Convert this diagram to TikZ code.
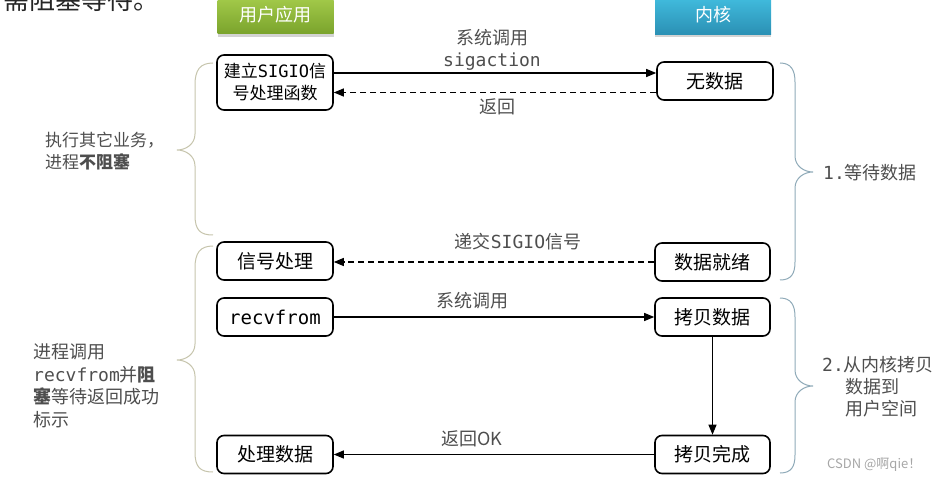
\documentclass[tikz,border=0pt]{standalone}
\usepackage{fontspec}
\setmainfont{Noto Sans CJK SC}
\setmonofont{DejaVu Sans Mono}
\usetikzlibrary{arrows.meta,shadows}
\definecolor{lblgray}{HTML}{4E4E4E}
\definecolor{lbrace}{HTML}{C6C4AC}
\definecolor{rbrace}{HTML}{8FAAB8}
\definecolor{gtop}{HTML}{A6CD4C}
\definecolor{gbot}{HTML}{7AA32C}
\definecolor{btop}{HTML}{42BEE0}
\definecolor{bbot}{HTML}{2B90B4}
\begin{document}
\begin{tikzpicture}[x=1pt,y=-1pt,
  box/.style={draw=black, line width=1.6pt, rounded corners=7pt, minimum width=116pt,
    minimum height=38pt, inner sep=0pt, align=center, font=\fontsize{19}{22}\selectfont, text=black},
  hdr/.style={minimum width=116pt, minimum height=39pt, inner sep=0pt, text=white,
    font=\fontsize{18}{22}\selectfont, drop shadow={opacity=0.35, shadow xshift=0pt, shadow yshift=-3pt}},
  lbl/.style={inner sep=0pt, text=lblgray, font=\fontsize{18}{22}\selectfont},
  sidetxt/.style={inner sep=0pt, text=lblgray, align=left},
  arr/.style={line width=1.1pt, -{Triangle[length=10pt,width=8pt]}},
  darr/.style={arr, dash pattern=on 6pt off 4pt},
  lbr/.style={draw=lbrace, line width=1pt},
  rbr/.style={draw=rbrace, line width=1pt}
]
\useasboundingbox (0,0) rectangle (940,481);

% cropped heading text
\node[anchor=base west, inner sep=0pt, text=black!85, font=\fontsize{26}{28}\selectfont] (head) at (3,10) {需阻塞等待。};

% column headers
\node[hdr, top color=gtop, bottom color=gbot] (user) at (275.5,14.5) {用户应用};
\node[hdr, top color=btop, bottom color=bbot] (kern) at (713,15) {内核};

% boxes
\node[box, minimum height=55pt, font=\fontsize{17}{22}\selectfont] (setup) at (275,82.5) {建立\texttt{SIGIO}信\\号处理函数};
\node[box] (nodata) at (715,81) {无数据};
\node[box] (sighandle) at (275,261) {信号处理};
\node[box] (recv) at (275,317) {\texttt{recvfrom}};
\node[box] (proc) at (275,454.5) {处理数据};
\node[box, minimum width=115pt] (ready) at (712.5,262) {数据就绪};
\node[box, minimum width=115pt] (copy) at (712.5,317) {拷贝数据};
\node[box, minimum width=115pt] (done) at (712.5,454.5) {拷贝完成};

% connectors
\draw[arr] ([yshift=9.5pt]setup.east) -- ([yshift=9.5pt]setup.east -| nodata.west);
\draw[darr] ([yshift=-10pt]setup.east -| nodata.west) -- ([yshift=-10pt]setup.east);
\draw[darr] (ready.west) -- (ready.west -| sighandle.east);
\draw[arr] (recv.east) -- (recv.east -| copy.west);
\draw[arr] (copy.south) -- (done.north);
\draw[arr] (done.west) -- (done.west -| proc.east);

% connector labels
\node[lbl] (l1a) at (492,38) {系统调用};
\node[lbl] (l1b) at (492,62) {\texttt{sigaction}};
\node[lbl] (l2) at (497,107) {返回};
\node[lbl] (l3) at (518,242) {递交\texttt{SIGIO}信号};
\node[lbl] (l4) at (472,301) {系统调用};
\node[lbl] (l5) at (472,439) {返回OK};

% left braces
\draw[lbr] (213,63) .. controls (200,63) and (195,70) .. (195,85) -- (195,134)
  .. controls (195,144) and (186,150) .. (177,150)
  .. controls (186,150) and (195,156) .. (195,166) -- (195,215)
  .. controls (195,230) and (200,235) .. (213,235);
\draw[lbr] (213,246) .. controls (200,246) and (195,253) .. (195,268) -- (195,344)
  .. controls (195,354) and (186,360) .. (177,360)
  .. controls (186,360) and (195,366) .. (195,376) -- (195,452)
  .. controls (195,467) and (200,472) .. (213,472);

% right braces
\draw[rbr] (780,63) .. controls (791,63) and (795,70) .. (795,82) -- (795,156)
  .. controls (795,166) and (804,172) .. (813,172)
  .. controls (804,172) and (795,178) .. (795,188) -- (795,262)
  .. controls (795,274) and (791,280) .. (780,280);
\draw[rbr] (780,298) .. controls (791,298) and (795,305) .. (795,317) -- (795,370)
  .. controls (795,380) and (804,386) .. (813,386)
  .. controls (804,386) and (795,392) .. (795,402) -- (795,455)
  .. controls (795,467) and (791,473) .. (780,473);

% side texts
\node[sidetxt, anchor=west, font=\fontsize{17}{22}\selectfont] (t1) at (45,151) {执行其它业务，\\进程\textbf{不阻塞}};
\node[sidetxt, anchor=west, font=\fontsize{18}{22.5}\selectfont] (t2) at (33,386) {进程调用\\\texttt{recvfrom}并\textbf{阻}\\\textbf{塞}等待返回成功\\标示};
\node[sidetxt, anchor=west, font=\fontsize{18}{22}\selectfont] (t3) at (823,173) {\texttt{1.}等待数据};
\node[sidetxt, anchor=west, font=\fontsize{18}{22}\selectfont] (t4) at (822,387) {\texttt{2.}从内核拷贝\\\hspace*{23pt}数据到\\\hspace*{23pt}用户空间};

% watermark
\node[inner sep=0pt, anchor=west, text=black!35, font=\fontsize{13}{15}\selectfont] (wm) at (827,465) {CSDN @啊qie！};
\end{tikzpicture}
\end{document}
